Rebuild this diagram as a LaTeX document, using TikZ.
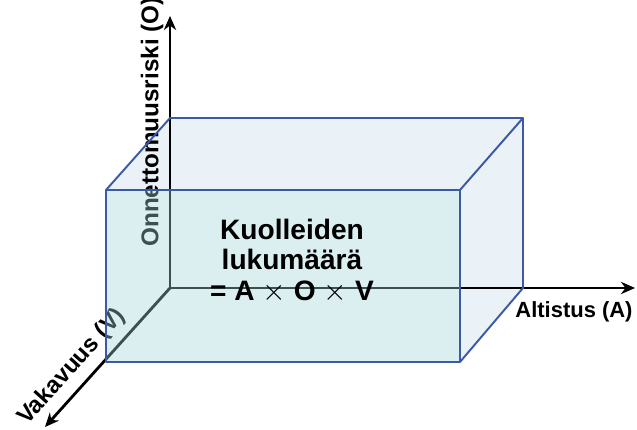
\documentclass[tikz,border=0pt]{standalone}
\usepackage{fontspec}
\setmainfont{Liberation Sans}
\usepackage{xcolor}
\usetikzlibrary{arrows.meta}
\definecolor{reunasin}{RGB}{58,90,168}
\definecolor{etupinta}{RGB}{160,212,215}
\definecolor{sivupinta}{RGB}{234,242,247}

\begin{document}
\begin{tikzpicture}[x=0.02cm,y=0.02cm,
  akseli/.style={line width=1.6pt,-{Stealth[length=8pt,width=7pt]}},
  reuna/.style={draw=reunasin,line width=1.1pt,line join=round},
  otsikko/.style={font=\bfseries\fontsize{12.5}{14}\selectfont}]
  \useasboundingbox (0,0) rectangle (637,430);
  % kulmat
  \coordinate (o) at (170,142);
  \coordinate (btl) at (170,312);
  \coordinate (btr) at (523,312);
  \coordinate (bbr) at (523,142);
  \coordinate (ftl) at (106,240);
  \coordinate (ftr) at (460,240);
  \coordinate (fbr) at (460,68);
  \coordinate (fbl) at (106,68);
  \coordinate (ykarki) at (170,414);
  \coordinate (xkarki) at (635,142);
  \coordinate (zkarki) at (45,3);
  % ylä- ja sivupinta
  \fill[sivupinta] (ftl) -- (btl) -- (btr) -- (bbr) -- (fbr) -- (ftr) -- cycle;
  % akselit
  \draw[akseli] (o) -- (ykarki);
  \draw[akseli] (o) -- (xkarki);
  \draw[akseli] (o) -- (zkarki);
  \node[otsikko,font=\bfseries\fontsize{13.8}{15}\selectfont,rotate=90] (olab) at (152,308) {Onnettomuusriski (O)};
  \node[otsikko] (alab) at (574,118) {Altistus (A)};
  \node[otsikko,font=\bfseries\fontsize{13.5}{15}\selectfont,rotate=48] (vlab) at (72,63) {Vakavuus (V)};
  % etupinta
  \fill[etupinta,fill opacity=0.38] (fbl) rectangle (ftr);
  \draw[reuna] (fbl) rectangle (ftr);
  \draw[reuna] (ftl) -- (btl) -- (btr) -- (ftr) (btr) -- (bbr) -- (fbr);
  \node[align=center,font=\bfseries\fontsize{16}{17.5}\selectfont] (kaava) at (292,169)
    {Kuolleiden\\lukumäärä\\= A $\times$ O $\times$ V};
\end{tikzpicture}
\end{document}
